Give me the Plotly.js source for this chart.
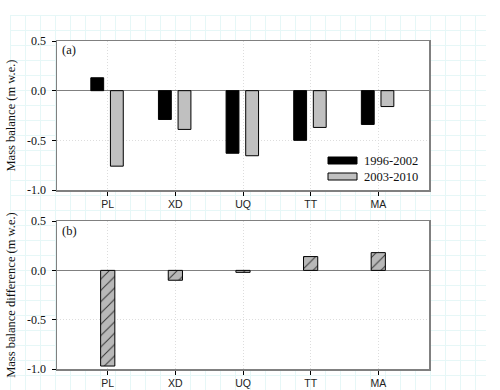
<!DOCTYPE html>
<html>
<head>
<meta charset="utf-8">
<script src="https://cdn.plot.ly/plotly-3.0.1.min.js"></script>
<style>
  html, body { margin:0; padding:0; background:#ffffff; }
  #wrap { position:relative; width:500px; height:390px; }
  #bggrid { position:absolute; left:10px; top:15px; width:476px; height:375px;
    background-image:
      linear-gradient(to right, #e6f7f7 1px, transparent 1px),
      linear-gradient(to bottom, #e6f7f7 1px, transparent 1px);
    background-size: 15px 15px; }
  #chart { position:absolute; left:0; top:0; width:500px; height:390px; }
</style>
</head>
<body>
<div id="wrap"><div id="bggrid"></div><div id="chart"></div></div>
<script>
const glaciers = ['PL', 'XD', 'UQ', 'TT', 'MA'];
const periodNames = ['1996-2002', '2003-2010'];
const balance1996_2002 = [0.13, -0.29, -0.63, -0.50, -0.34];
const balance2003_2010 = [-0.76, -0.39, -0.655, -0.37, -0.16];
const balanceDifference = [-0.97, -0.10, -0.02, 0.14, 0.18];
const yTicks = [-1.0, -0.5, 0.0, 0.5];
const yTickText = ['-1.0', '-0.5', '0.0', '0.5'];

const serif = 'Liberation Serif';
const sans = 'Liberation Sans';

const traces = [
  { type:'bar', x:glaciers, y:balance1996_2002, name:periodNames[0],
    xaxis:'x2', yaxis:'y2', width:0.19, offset:-0.25,
    marker:{color:'#000000', line:{color:'#000000', width:1}}, showlegend:false },
  { type:'bar', x:glaciers, y:balance2003_2010, name:periodNames[1],
    xaxis:'x2', yaxis:'y2', width:0.19, offset:0.04,
    marker:{color:'#c0c0c0', line:{color:'#000000', width:1}}, showlegend:false },
  { type:'bar', x:glaciers, y:balanceDifference, name:'difference',
    xaxis:'x', yaxis:'y', width:0.21,
    marker:{color:'#b8b8b8', line:{color:'#000000', width:1},
      pattern:{shape:'/', fgcolor:'#333333', bgcolor:'#b8b8b8', size:8, solidity:0.12}},
    showlegend:false }
];

function xax(anchor) {
  return { anchor:anchor, range:[-0.75, 4.75], type:'category',
    showline:true, mirror:true, linecolor:'#808080', linewidth:1.5,
    showgrid:true, gridcolor:'#dddddd', griddash:'1px,2px', gridwidth:1,
    ticks:'outside', ticklen:4, tickcolor:'#000', tickwidth:1,
    tickfont:{family:sans, size:10.5, color:'#222'}, zeroline:false, fixedrange:true };
}
function yax(domain, title) {
  return { domain:domain, range:[-1.0, 0.5], tickvals:yTicks, ticktext:yTickText,
    showline:true, mirror:true, linecolor:'#808080', linewidth:1.5,
    showgrid:true, gridcolor:'#dddddd', griddash:'1px,2px', gridwidth:1,
    zeroline:true, zerolinecolor:'#808080', zerolinewidth:1.5,
    ticks:'outside', ticklen:4, tickcolor:'#000', tickwidth:1,
    ticklabelstandoff:3,
    tickfont:{family:serif, size:12, color:'#111'},
    title:{text:title, font:{family:serif, size:12.5, color:'#111'}, standoff:8},
    fixedrange:true };
}

const px = v => (v - 57) / 372;
const py = v => (369 - v) / 328;

const layout = {
  width:500, height:390,
  margin:{l:57, r:71, t:41, b:21},
  paper_bgcolor:'rgba(0,0,0,0)', plot_bgcolor:'#ffffff',
  barmode:'overlay', showlegend:false,
  xaxis: xax('y'),
  xaxis2: xax('y2'),
  yaxis: yax([0, 0.451], 'Mass balance difference (m w.e.)'),
  yaxis2: yax([0.5457, 1], 'Mass balance (m w.e.)'),
  shapes:[
    {type:'rect', xref:'paper', yref:'paper', x0:px(328), x1:px(357), y0:py(164), y1:py(157),
     fillcolor:'#000000', line:{color:'#000000', width:1}},
    {type:'rect', xref:'paper', yref:'paper', x0:px(328), x1:px(357), y0:py(180), y1:py(173),
     fillcolor:'#c0c0c0', line:{color:'#000000', width:1}}
  ],
  annotations:[
    {text:periodNames[0], xref:'paper', yref:'paper', x:px(362), y:py(160.5), xanchor:'left', yanchor:'middle',
     showarrow:false, font:{family:serif, size:12.5, color:'#111'}},
    {text:periodNames[1], xref:'paper', yref:'paper', x:px(362), y:py(176.5), xanchor:'left', yanchor:'middle',
     showarrow:false, font:{family:serif, size:12.5, color:'#111'}},
    {text:'(a)', xref:'paper', yref:'paper', x:px(60), y:py(50), xanchor:'left', yanchor:'middle',
     showarrow:false, font:{family:serif, size:12.5, color:'#111'}},
    {text:'(b)', xref:'paper', yref:'paper', x:px(60), y:py(231), xanchor:'left', yanchor:'middle',
     showarrow:false, font:{family:serif, size:12.5, color:'#111'}}
  ]
};

Plotly.newPlot('chart', traces, layout, {staticPlot:true, displayModeBar:false});
</script>
</body>
</html>
